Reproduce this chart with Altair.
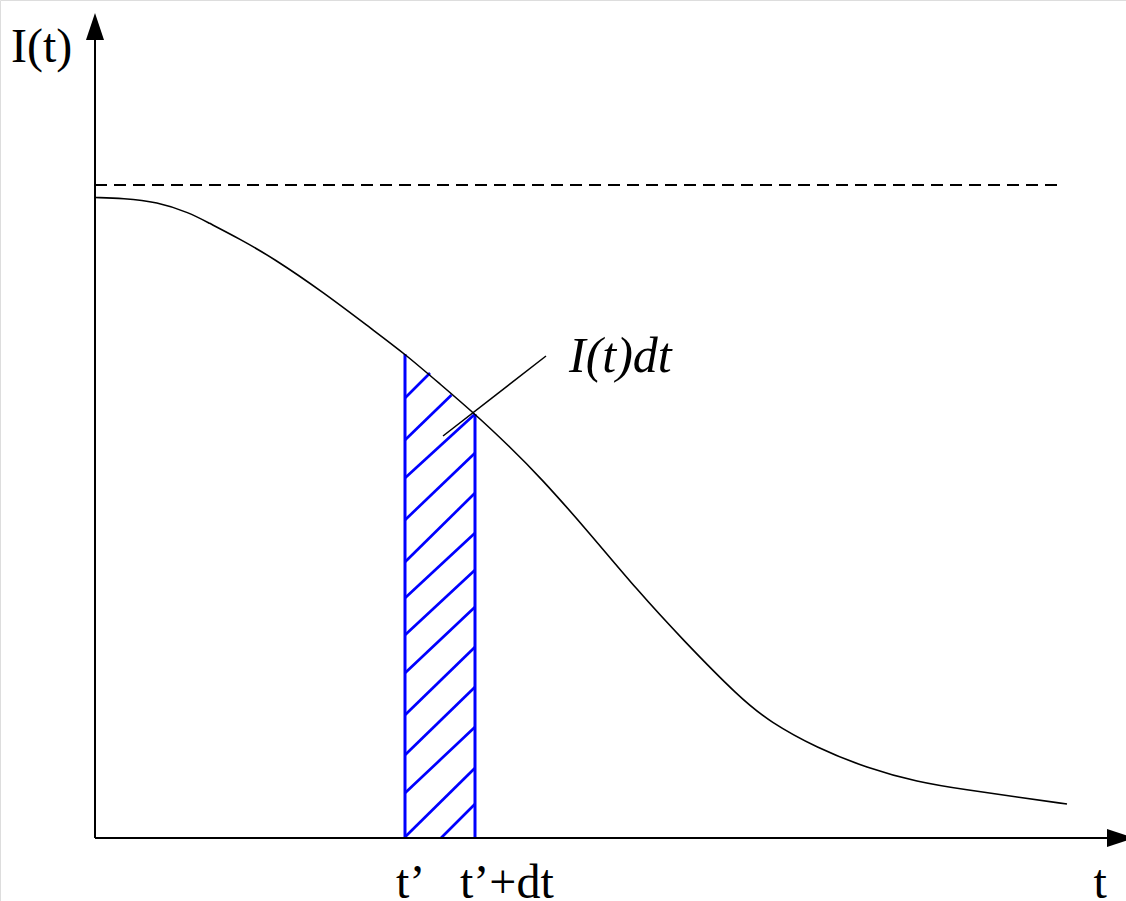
import altair as alt
import pandas as pd

# Decaying intensity curve I(t)
curve_t = [0.00, 0.28, 0.62, 0.95, 1.12, 1.45, 1.78, 2.28, 2.78, 3.10, 3.45, 3.80,
           4.15, 4.45, 4.92, 5.42, 5.88, 6.45, 6.75, 7.22, 7.72, 8.22, 8.72, 9.22,
           9.72]
curve_i = [6.405, 6.397, 6.363, 6.25, 6.16, 5.99, 5.80, 5.46, 5.08, 4.84, 4.54, 4.24,
           3.91, 3.61, 3.08, 2.48, 1.98, 1.40, 1.16, 0.90, 0.70, 0.56, 0.48, 0.41,
           0.34]

# Asymptote level and extent
asym_level = 6.53
asym_end = 9.65

# Strip between t' and t'+dt
t_prime = 3.10
t_prime_dt = 3.80
strip_top = [4.84, 4.24]

# Hatch segments inside the strip (start t, start I, end t, end I)
hatch_t0 = [3.46, 3.10, 3.10, 3.10, 3.10, 3.10, 3.10, 3.10, 3.10, 3.10, 3.10, 3.10, 3.10]
hatch_i0 = [0.00, 0.01, 0.45, 0.83, 1.23, 1.65, 2.03, 2.40, 2.76, 3.18, 3.60, 3.98, 4.40]
hatch_t1 = [3.80, 3.80, 3.80, 3.80, 3.80, 3.80, 3.80, 3.80, 3.80, 3.80, 3.80, 3.565, 3.35]
hatch_i1 = [0.34, 0.70, 1.11, 1.51, 1.91, 2.31, 2.68, 3.05, 3.45, 3.85, 4.24, 4.43, 4.65]

# Leader line for the area label
leader_t = [3.48, 4.51]
leader_i = [4.02, 4.82]

# Axis extents
x_axis_end = 10.12
y_axis_end = 7.98

# Labels
label_text = ["I(t)", "t\u2019", "t\u2019+dt", "t"]
label_t = [-0.84, 3.01, 3.65, 9.985]
label_i = [7.76, -0.60, -0.60, -0.60]
area_label = "I(t)dt"
area_label_t = 4.74
area_label_i = 4.66

xs = alt.Scale(domain=[-0.95, 10.31], nice=False, zero=False)
ys = alt.Scale(domain=[-0.63, 8.38], nice=False, zero=False)

def X(field="t"):
    return alt.X(f"{field}:Q", scale=xs, axis=None)

def Y(field="i"):
    return alt.Y(f"{field}:Q", scale=ys, axis=None)

# Axes
axes_df = pd.DataFrame({
    "t": [0, 0], "i": [0, 0],
    "t2": [x_axis_end, 0], "i2": [0, y_axis_end],
})
axes = alt.Chart(axes_df).mark_rule(color="black", strokeWidth=2).encode(
    x=X(), y=Y(), x2="t2:Q", y2="i2:Q"
)

# Arrow heads
up_arrow = alt.Chart(pd.DataFrame({"t": [0.0], "i": [8.115]})).mark_point(
    shape="M0,-1L0.667,1L-0.667,1Z", size=729, filled=True, color="black", opacity=1
).encode(x=X(), y=Y())
right_arrow = alt.Chart(pd.DataFrame({"t": [10.255], "i": [0.0]})).mark_point(
    shape="M1,0L-1,0.667L-1,-0.667Z", size=729, filled=True, color="black", opacity=1
).encode(x=X(), y=Y())

# Dashed asymptote
asym = alt.Chart(pd.DataFrame({"t": [0.0], "t2": [asym_end], "i": [asym_level]})).mark_rule(
    color="black", strokeWidth=2, strokeDash=[12, 7]
).encode(x=X(), x2="t2:Q", y=Y())

# Curve (smoothed through the sampled points)
curve = alt.Chart(pd.DataFrame({"t": curve_t, "i": curve_i})).mark_line(
    color="black", strokeWidth=1.6, interpolate="basis"
).encode(x=X(), y=Y(), order="t:Q")

# Strip edges
edges = alt.Chart(pd.DataFrame({
    "t": [t_prime, t_prime_dt], "i": [0, 0], "i2": strip_top
})).mark_rule(color="#0000ff", strokeWidth=3).encode(x=X(), y=Y(), y2="i2:Q")

# Hatching
hatch = alt.Chart(pd.DataFrame({
    "t": hatch_t0, "i": hatch_i0, "t2": hatch_t1, "i2": hatch_i1
})).mark_rule(color="#0000ff", strokeWidth=2.7).encode(x=X(), y=Y(), x2="t2:Q", y2="i2:Q")

# Leader line
leader = alt.Chart(pd.DataFrame({
    "t": [leader_t[0]], "i": [leader_i[0]], "t2": [leader_t[1]], "i2": [leader_i[1]]
})).mark_rule(color="black", strokeWidth=1.5).encode(x=X(), y=Y(), x2="t2:Q", y2="i2:Q")

# Text labels
labels = alt.Chart(pd.DataFrame({"t": label_t, "i": label_i, "text": label_text})).mark_text(
    font="Liberation Serif", fontSize=48, align="left", baseline="alphabetic", color="black"
).encode(x=X(), y=Y(), text="text:N")

area_text = alt.Chart(pd.DataFrame({"t": [area_label_t], "i": [area_label_i], "text": [area_label]})).mark_text(
    font="Liberation Serif", fontSize=50, fontStyle="italic", align="left",
    baseline="alphabetic", color="black"
).encode(x=X(), y=Y(), text="text:N")

chart = alt.layer(
    hatch, edges, asym, curve, leader, axes, up_arrow, right_arrow, labels, area_text
).properties(
    width=1126, height=901, padding=0, autosize=alt.AutoSizeParams(type="none")
).configure_view(stroke=None).configure(background="white")

chart.save("out.html", embed_options={"renderer": "svg", "actions": False})
